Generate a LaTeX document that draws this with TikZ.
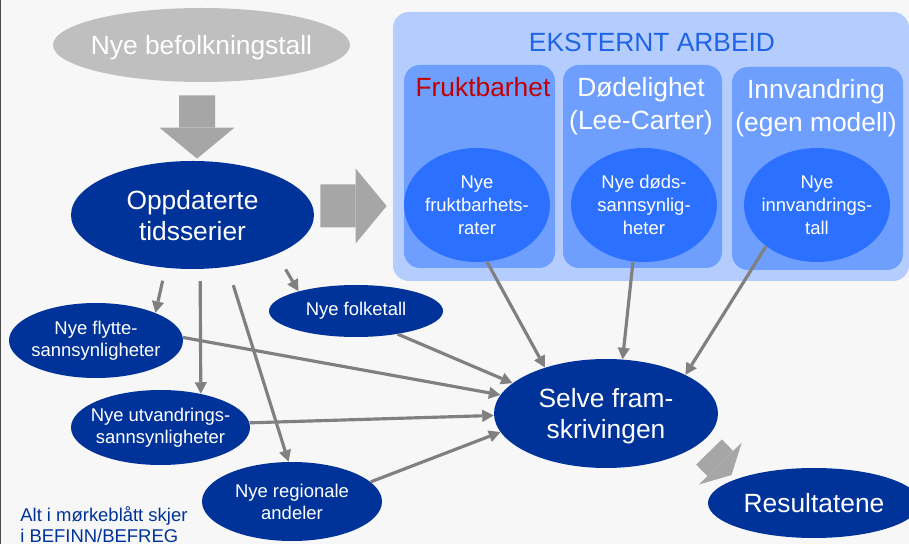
\documentclass[tikz,border=0pt]{standalone}
\usepackage{fontspec}
\setmainfont{Liberation Sans}
\usetikzlibrary{shapes}
\usetikzlibrary{positioning}
\usetikzlibrary{arrows.meta}
\definecolor{bggray}{HTML}{F7F7F7}
\definecolor{nodegray}{HTML}{BFBFBF}
\definecolor{arrowgray}{HTML}{A6A6A6}
\definecolor{linegray}{HTML}{808080}
\definecolor{darkblue}{HTML}{003399}
\definecolor{boxlight}{HTML}{B4CDFE}
\definecolor{boxmid}{HTML}{6E9FFF}
\definecolor{ellblue}{HTML}{2B70FF}
\definecolor{titleblue}{HTML}{1F64E6}
\definecolor{darkred}{HTML}{C00000}
\newcommand{\fontbig}{\fontsize{15}{17.6}\selectfont}
\newcommand{\fontsmall}{\fontsize{10.5}{12.5}\selectfont}
\tikzset{
    mynodeg/.style = {ellipse, inner sep=-4pt, text depth=0pt, align=center, fill=nodegray, font=\fontbig, text=white},
    mynoded/.style = {ellipse, inner sep=-4pt, text depth=0pt, align=center, fill=darkblue, font=\fontbig, text=white},
    mynodes/.style = {ellipse, inner sep=-4pt, align=center, fill=darkblue, font=\fontsmall, text=white},
    mynodeb/.style = {ellipse, inner sep=-4pt, align=center, fill=ellblue, font=\fontsize{10.5}{13}\selectfont, text=white,
                      minimum width=2.92cm, minimum height=2.28cm},
    myboxl/.style = {rectangle, rounded corners=0.32cm, inner sep=0pt, fill=boxlight, minimum width=10.32cm, minimum height=5.38cm},
    myboxm/.style = {rectangle, rounded corners=0.32cm, inner sep=0pt, fill=boxmid, minimum height=4.06cm},
    mytitle/.style = {align=center, font=\fontbig, text=titleblue},
    myhead/.style = {align=center, font=\fontsize{15}{18.8}\selectfont, text=white},
    myheadr/.style = {align=center, font=\fontbig, text=darkred},
    mynote/.style = {align=left, inner sep=0pt, font=\fontsize{10.5}{12}\selectfont, text=darkblue},
    edgeg/.style = {-{Triangle[length=6.5pt,width=7pt,line width=0pt]}, line width=1.8pt, linegray},
    edgebig/.style = {-{Triangle[length=0.62cm,width=1.5cm,line width=0pt]}, line width=0.72cm, arrowgray},
    edgesmall/.style = {-{Triangle[length=0.32cm,width=1.2cm,line width=0pt]}, line width=0.72cm, arrowgray}
}

\begin{document}
\begin{tikzpicture}[scale=1.00,transform shape]
\useasboundingbox (0,0) rectangle (18.18,10.88);
\fill[bggray] (0,0) rectangle (18.18,10.88);
\fill[black!70] (0,0) rectangle (0.02,10.88);
%
\node[myboxl] at (13.02, 7.95) (ekst) {};
\node[myboxm, minimum width=3.02cm] at (9.59, 7.55) (boksf) {};
\node[myboxm, minimum width=3.18cm] at (12.85, 7.55) (boksd) {};
\node[myboxm, minimum width=3.42cm] at (16.35, 7.51) (boksi) {};
\node[mytitle] at (13.04, 10.04) (titel) {EKSTERNT ARBEID};
\node[myheadr] at (9.66, 9.14) (hfrukt) {Fruktbarhet};
\node[myhead] at (12.82, 8.75) (hdod) {Dødelighet\\(Lee-Carter)};
\node[myhead] at (16.32, 8.71) (hinn) {Innvandring\\(egen modell)};
\node[mynodeb] at (9.54, 6.78) (frukt) {Nye\\fruktbarhets-\\rater};
\node[mynodeb] at (12.88, 6.78) (dod) {Nye døds-\\sannsynlig-\\heter};
\node[mynodeb] at (16.34, 6.78) (innv) {Nye\\innvandrings-\\tall};
%
\node[mynodeg, minimum width=5.94cm, minimum height=1.48cm] at (4.03, 9.98) (nyebef) {Nye befolkningstall};
\node[mynoded, minimum width=4.86cm, minimum height=2.16cm] at (3.85, 6.58) (oppd) {Oppdaterte\\tidsserier};
\node[mynodes, minimum width=3.48cm, minimum height=1.04cm] at (7.12, 4.66) (folk) {Nye folketall};
\node[mynodes, minimum width=3.48cm, minimum height=1.50cm] at (1.92, 4.07) (flytte) {Nye flytte-\\sannsynligheter};
\node[mynodes, minimum width=3.58cm, minimum height=1.50cm] at (3.21, 2.33) (utv) {Nye utvandrings-\\sannsynligheter};
\node[mynodes, minimum width=3.60cm, minimum height=1.58cm] at (5.84, 0.85) (reg) {Nye regionale\\andeler};
\node[mynoded, minimum width=4.48cm, minimum height=2.18cm] at (12.12, 2.61) (selve) {Selve fram-\\skrivingen};
\node[mynoded, minimum width=4.24cm, minimum height=1.40cm] at (16.28, 0.82) (res) {Resultatene};
\node[mynote, anchor=west] at (0.40, 0.38) (note) {Alt i mørkeblått skjer\\i BEFINN/BEFREG};
%
\draw[edgebig] ([shift={(-0.09,-0.26)}]nyebef.south) -- ([shift={(0.09,0.04)}]oppd.north);
\draw[edgebig, line width=0.86cm] ([shift={(0.12,0.18)}]oppd.east) -- ([shift={(-0.12,-1.19)}]ekst.west);
\draw[edgesmall] ([shift={(2.06,-0.77)}]selve.center) -- ([shift={(-1.65,0.56)}]res.center);
%
\draw[edgeg, shorten <=0.26cm] (oppd.243) -- (flytte.25);
\draw[edgeg, shorten <=0.24cm] (oppd.278) -- (utv.40);
\draw[edgeg, shorten <=0.38cm] (oppd.304) -- (reg.95);
\draw[edgeg, shorten <=0.35cm] (oppd.335) -- (folk.161);
\draw[edgeg] (flytte.2) -- (selve.170);
\draw[edgeg] (folk.331) -- (selve.162);
\draw[edgeg] (utv.3) -- (selve.181);
\draw[edgeg] (reg.14) -- (selve.190);
\draw[edgeg] (frukt.280) -- (selve.143);
\draw[edgeg] (dod.259) -- (selve.73);
\draw[edgeg] (innv.219) -- (selve.26);
\end{tikzpicture}
\end{document}
